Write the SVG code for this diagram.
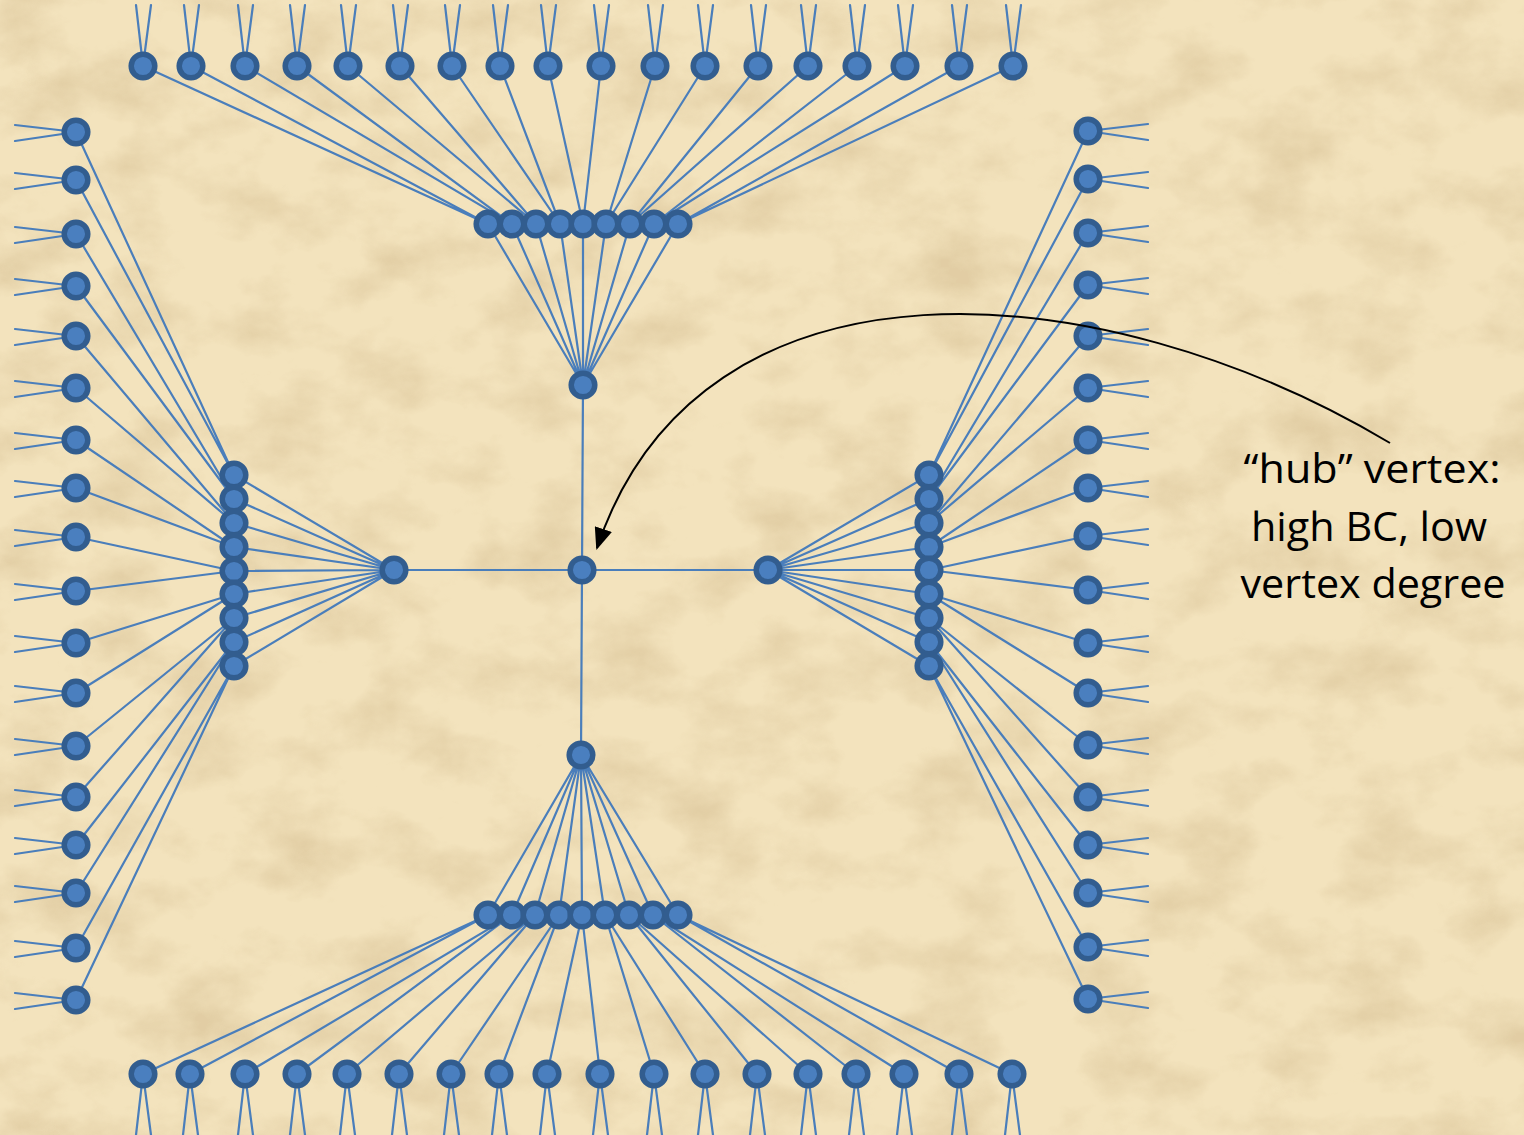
<svg xmlns="http://www.w3.org/2000/svg" width="1524" height="1135" viewBox="0 0 1524 1135">
  <defs>
    <style>
      .edge { fill: none; stroke: #4a7ebb; stroke-width: 2.2; stroke-linecap: round; }
      .v { fill: #4a7fbf; stroke: #325d8f; stroke-width: 5.5; }
      .callout { fill: none; stroke: #000; stroke-width: 2; }
      .label { font-family: "Open Sans", "Noto Sans", "Liberation Sans", sans-serif; font-size: 40px; fill: #000; }
    </style>
    <filter id="paper" x="0" y="0" width="100%" height="100%" filterUnits="userSpaceOnUse">
      <feTurbulence type="fractalNoise" baseFrequency="0.012 0.017" numOctaves="5" seed="11" result="noise"/>
      <feColorMatrix in="noise" type="matrix" values="0 0 0 0 0.68  0 0 0 0 0.53  0 0 0 0 0.30  2.2 0 0 0 -0.95"/>
    </filter>
    <marker id="arrowhead" markerWidth="11" markerHeight="9" refX="10" refY="4.5" orient="auto" markerUnits="strokeWidth">
      <path d="M0,0 L11,4.5 L0,9 Z" fill="#000"/>
    </marker>
  </defs>

  <!-- parchment background -->
  <rect width="1524" height="1135" fill="#f3e3bd"/>
  <rect width="1524" height="1135" filter="url(#paper)" opacity="0.6"/>

  <!-- connectors -->
  <g id="connectors">
    <!-- top: stubs leaving the outer row -->
    <path class="edge" d="M143,66L136,5M143,66L151,5M191,66L184,5M191,66L199,5M245,66L238,5M245,66L253,5M297,66L290,5M297,66L305,5M348,66L341,5M348,66L356,5M400,66L393,5M400,66L408,5M452,66L445,5M452,66L460,5M500,66L493,5M500,66L508,5M548,66L541,5M548,66L556,5M601,66L594,5M601,66L609,5M655,66L648,5M655,66L663,5M705,66L698,5M705,66L713,5M758,66L751,5M758,66L766,5M808,66L801,5M808,66L816,5M857,66L850,5M857,66L865,5M905,66L898,5M905,66L913,5M959,66L952,5M959,66L967,5M1013,66L1006,5M1013,66L1021,5"/>
    <!-- top: outer row to cluster -->
    <path class="edge" d="M143,66L488,224M191,66L488,224M245,66L512,224M297,66L512,224M348,66L536,224M400,66L536,224M452,66L560,224M500,66L560,224M548,66L583,224M601,66L583,224M655,66L606,224M705,66L606,224M758,66L630,224M808,66L630,224M857,66L654,224M905,66L654,224M959,66L678,224M1013,66L678,224"/>
    <!-- top: cluster to hub -->
    <path class="edge" d="M488,224L583,385M512,224L583,385M536,224L583,385M560,224L583,385M583,224L583,385M606,224L583,385M630,224L583,385M654,224L583,385M678,224L583,385"/>

    <!-- bottom: stubs -->
    <path class="edge" d="M143,1074L136,1135M143,1074L151,1135M190,1074L183,1135M190,1074L198,1135M245,1074L238,1135M245,1074L253,1135M297,1074L290,1135M297,1074L305,1135M347,1074L340,1135M347,1074L355,1135M399,1074L392,1135M399,1074L407,1135M451,1074L444,1135M451,1074L459,1135M499,1074L492,1135M499,1074L507,1135M547,1074L540,1135M547,1074L555,1135M600,1074L593,1135M600,1074L608,1135M654,1074L647,1135M654,1074L662,1135M705,1074L698,1135M705,1074L713,1135M757,1074L750,1135M757,1074L765,1135M808,1074L801,1135M808,1074L816,1135M856,1074L849,1135M856,1074L864,1135M904,1074L897,1135M904,1074L912,1135M959,1074L952,1135M959,1074L967,1135M1012,1074L1005,1135M1012,1074L1020,1135"/>
    <!-- bottom: outer row to cluster -->
    <path class="edge" d="M143,1074L488,915M190,1074L488,915M245,1074L512,915M297,1074L512,915M347,1074L535,915M399,1074L535,915M451,1074L559,915M499,1074L559,915M547,1074L582,915M600,1074L582,915M654,1074L605,915M705,1074L605,915M757,1074L629,915M808,1074L629,915M856,1074L653,915M904,1074L653,915M959,1074L678,915M1012,1074L678,915"/>
    <!-- bottom: cluster to hub -->
    <path class="edge" d="M488,915L581,755M512,915L581,755M535,915L581,755M559,915L581,755M582,915L581,755M605,915L581,755M629,915L581,755M653,915L581,755M678,915L581,755"/>

    <!-- left: stubs -->
    <path class="edge" d="M76,132L15,125M76,132L15,141M76,180L15,173M76,180L15,189M76,234L15,227M76,234L15,243M76,286L15,279M76,286L15,295M76,336L15,329M76,336L15,345M76,388L15,381M76,388L15,397M76,440L15,433M76,440L15,449M76,488L15,481M76,488L15,497M76,537L15,530M76,537L15,546M76,591L15,584M76,591L15,600M76,643L15,636M76,643L15,652M76,693L15,686M76,693L15,702M76,746L15,739M76,746L15,755M76,797L15,790M76,797L15,806M76,845L15,838M76,845L15,854M76,893L15,886M76,893L15,902M76,948L15,941M76,948L15,957M76,1000L15,993M76,1000L15,1009"/>
    <!-- left: outer column to cluster -->
    <path class="edge" d="M76,132L234,475M76,180L234,475M76,234L234,499M76,286L234,499M76,336L234,523M76,388L234,523M76,440L234,547M76,488L234,547M76,537L234,571M76,591L234,571M76,643L234,594M76,693L234,594M76,746L234,618M76,797L234,618M76,845L234,642M76,893L234,642M76,948L234,666M76,1000L234,666"/>
    <!-- left: cluster to hub -->
    <path class="edge" d="M234,475L394,570M234,499L394,570M234,523L394,570M234,547L394,570M234,571L394,570M234,594L394,570M234,618L394,570M234,642L394,570M234,666L394,570"/>

    <!-- right: stubs -->
    <path class="edge" d="M1088,131L1148,124M1088,131L1148,140M1088,179L1148,172M1088,179L1148,188M1088,233L1148,226M1088,233L1148,242M1088,285L1148,278M1088,285L1148,294M1088,336L1148,329M1088,336L1148,345M1088,388L1148,381M1088,388L1148,397M1088,440L1148,433M1088,440L1148,449M1088,488L1148,481M1088,488L1148,497M1088,536L1148,529M1088,536L1148,545M1088,590L1148,583M1088,590L1148,599M1088,643L1148,636M1088,643L1148,652M1088,693L1148,686M1088,693L1148,702M1088,745L1148,738M1088,745L1148,754M1088,797L1148,790M1088,797L1148,806M1088,845L1148,838M1088,845L1148,854M1088,893L1148,886M1088,893L1148,902M1088,947L1148,940M1088,947L1148,956M1088,999L1148,992M1088,999L1148,1008"/>
    <!-- right: outer column to cluster -->
    <path class="edge" d="M1088,131L929,475M1088,179L929,475M1088,233L929,499M1088,285L929,499M1088,336L929,523M1088,388L929,523M1088,440L929,547M1088,488L929,547M1088,536L929,570M1088,590L929,570M1088,643L929,594M1088,693L929,594M1088,745L929,618M1088,797L929,618M1088,845L929,642M1088,893L929,642M1088,947L929,666M1088,999L929,666"/>
    <!-- right: cluster to hub -->
    <path class="edge" d="M929,475L768,570M929,499L768,570M929,523L768,570M929,547L768,570M929,570L768,570M929,594L768,570M929,618L768,570M929,642L768,570M929,666L768,570"/>

    <!-- hubs to the central vertex -->
    <path class="edge" d="M394,570L582,570M768,570L582,570M583,385L582,570M581,755L582,570"/>
  </g>

  <!-- top outer row -->
  <g id="top-0"><circle class="v" cx="143" cy="66" r="11.8"/></g>
  <g id="top-1"><circle class="v" cx="191" cy="66" r="11.8"/></g>
  <g id="top-2"><circle class="v" cx="245" cy="66" r="11.8"/></g>
  <g id="top-3"><circle class="v" cx="297" cy="66" r="11.8"/></g>
  <g id="top-4"><circle class="v" cx="348" cy="66" r="11.8"/></g>
  <g id="top-5"><circle class="v" cx="400" cy="66" r="11.8"/></g>
  <g id="top-6"><circle class="v" cx="452" cy="66" r="11.8"/></g>
  <g id="top-7"><circle class="v" cx="500" cy="66" r="11.8"/></g>
  <g id="top-8"><circle class="v" cx="548" cy="66" r="11.8"/></g>
  <g id="top-9"><circle class="v" cx="601" cy="66" r="11.8"/></g>
  <g id="top-10"><circle class="v" cx="655" cy="66" r="11.8"/></g>
  <g id="top-11"><circle class="v" cx="705" cy="66" r="11.8"/></g>
  <g id="top-12"><circle class="v" cx="758" cy="66" r="11.8"/></g>
  <g id="top-13"><circle class="v" cx="808" cy="66" r="11.8"/></g>
  <g id="top-14"><circle class="v" cx="857" cy="66" r="11.8"/></g>
  <g id="top-15"><circle class="v" cx="905" cy="66" r="11.8"/></g>
  <g id="top-16"><circle class="v" cx="959" cy="66" r="11.8"/></g>
  <g id="top-17"><circle class="v" cx="1013" cy="66" r="11.8"/></g>

  <!-- top cluster -->
  <g id="top-cluster-0"><circle class="v" cx="488" cy="224" r="11.8"/></g>
  <g id="top-cluster-1"><circle class="v" cx="512" cy="224" r="11.8"/></g>
  <g id="top-cluster-2"><circle class="v" cx="536" cy="224" r="11.8"/></g>
  <g id="top-cluster-3"><circle class="v" cx="560" cy="224" r="11.8"/></g>
  <g id="top-cluster-4"><circle class="v" cx="583" cy="224" r="11.8"/></g>
  <g id="top-cluster-5"><circle class="v" cx="606" cy="224" r="11.8"/></g>
  <g id="top-cluster-6"><circle class="v" cx="630" cy="224" r="11.8"/></g>
  <g id="top-cluster-7"><circle class="v" cx="654" cy="224" r="11.8"/></g>
  <g id="top-cluster-8"><circle class="v" cx="678" cy="224" r="11.8"/></g>
  <g id="top-hub"><circle class="v" cx="583" cy="385" r="11.8"/></g>

  <!-- bottom outer row -->
  <g id="bottom-0"><circle class="v" cx="143" cy="1074" r="11.8"/></g>
  <g id="bottom-1"><circle class="v" cx="190" cy="1074" r="11.8"/></g>
  <g id="bottom-2"><circle class="v" cx="245" cy="1074" r="11.8"/></g>
  <g id="bottom-3"><circle class="v" cx="297" cy="1074" r="11.8"/></g>
  <g id="bottom-4"><circle class="v" cx="347" cy="1074" r="11.8"/></g>
  <g id="bottom-5"><circle class="v" cx="399" cy="1074" r="11.8"/></g>
  <g id="bottom-6"><circle class="v" cx="451" cy="1074" r="11.8"/></g>
  <g id="bottom-7"><circle class="v" cx="499" cy="1074" r="11.8"/></g>
  <g id="bottom-8"><circle class="v" cx="547" cy="1074" r="11.8"/></g>
  <g id="bottom-9"><circle class="v" cx="600" cy="1074" r="11.8"/></g>
  <g id="bottom-10"><circle class="v" cx="654" cy="1074" r="11.8"/></g>
  <g id="bottom-11"><circle class="v" cx="705" cy="1074" r="11.8"/></g>
  <g id="bottom-12"><circle class="v" cx="757" cy="1074" r="11.8"/></g>
  <g id="bottom-13"><circle class="v" cx="808" cy="1074" r="11.8"/></g>
  <g id="bottom-14"><circle class="v" cx="856" cy="1074" r="11.8"/></g>
  <g id="bottom-15"><circle class="v" cx="904" cy="1074" r="11.8"/></g>
  <g id="bottom-16"><circle class="v" cx="959" cy="1074" r="11.8"/></g>
  <g id="bottom-17"><circle class="v" cx="1012" cy="1074" r="11.8"/></g>

  <!-- bottom cluster -->
  <g id="bottom-cluster-0"><circle class="v" cx="488" cy="915" r="11.8"/></g>
  <g id="bottom-cluster-1"><circle class="v" cx="512" cy="915" r="11.8"/></g>
  <g id="bottom-cluster-2"><circle class="v" cx="535" cy="915" r="11.8"/></g>
  <g id="bottom-cluster-3"><circle class="v" cx="559" cy="915" r="11.8"/></g>
  <g id="bottom-cluster-4"><circle class="v" cx="582" cy="915" r="11.8"/></g>
  <g id="bottom-cluster-5"><circle class="v" cx="605" cy="915" r="11.8"/></g>
  <g id="bottom-cluster-6"><circle class="v" cx="629" cy="915" r="11.8"/></g>
  <g id="bottom-cluster-7"><circle class="v" cx="653" cy="915" r="11.8"/></g>
  <g id="bottom-cluster-8"><circle class="v" cx="678" cy="915" r="11.8"/></g>
  <g id="bottom-hub"><circle class="v" cx="581" cy="755" r="11.8"/></g>

  <!-- left outer column -->
  <g id="left-0"><circle class="v" cx="76" cy="132" r="11.8"/></g>
  <g id="left-1"><circle class="v" cx="76" cy="180" r="11.8"/></g>
  <g id="left-2"><circle class="v" cx="76" cy="234" r="11.8"/></g>
  <g id="left-3"><circle class="v" cx="76" cy="286" r="11.8"/></g>
  <g id="left-4"><circle class="v" cx="76" cy="336" r="11.8"/></g>
  <g id="left-5"><circle class="v" cx="76" cy="388" r="11.8"/></g>
  <g id="left-6"><circle class="v" cx="76" cy="440" r="11.8"/></g>
  <g id="left-7"><circle class="v" cx="76" cy="488" r="11.8"/></g>
  <g id="left-8"><circle class="v" cx="76" cy="537" r="11.8"/></g>
  <g id="left-9"><circle class="v" cx="76" cy="591" r="11.8"/></g>
  <g id="left-10"><circle class="v" cx="76" cy="643" r="11.8"/></g>
  <g id="left-11"><circle class="v" cx="76" cy="693" r="11.8"/></g>
  <g id="left-12"><circle class="v" cx="76" cy="746" r="11.8"/></g>
  <g id="left-13"><circle class="v" cx="76" cy="797" r="11.8"/></g>
  <g id="left-14"><circle class="v" cx="76" cy="845" r="11.8"/></g>
  <g id="left-15"><circle class="v" cx="76" cy="893" r="11.8"/></g>
  <g id="left-16"><circle class="v" cx="76" cy="948" r="11.8"/></g>
  <g id="left-17"><circle class="v" cx="76" cy="1000" r="11.8"/></g>

  <!-- left cluster -->
  <g id="left-cluster-0"><circle class="v" cx="234" cy="475" r="11.8"/></g>
  <g id="left-cluster-1"><circle class="v" cx="234" cy="499" r="11.8"/></g>
  <g id="left-cluster-2"><circle class="v" cx="234" cy="523" r="11.8"/></g>
  <g id="left-cluster-3"><circle class="v" cx="234" cy="547" r="11.8"/></g>
  <g id="left-cluster-4"><circle class="v" cx="234" cy="571" r="11.8"/></g>
  <g id="left-cluster-5"><circle class="v" cx="234" cy="594" r="11.8"/></g>
  <g id="left-cluster-6"><circle class="v" cx="234" cy="618" r="11.8"/></g>
  <g id="left-cluster-7"><circle class="v" cx="234" cy="642" r="11.8"/></g>
  <g id="left-cluster-8"><circle class="v" cx="234" cy="666" r="11.8"/></g>
  <g id="left-hub"><circle class="v" cx="394" cy="570" r="11.8"/></g>

  <!-- right outer column -->
  <g id="right-0"><circle class="v" cx="1088" cy="131" r="11.8"/></g>
  <g id="right-1"><circle class="v" cx="1088" cy="179" r="11.8"/></g>
  <g id="right-2"><circle class="v" cx="1088" cy="233" r="11.8"/></g>
  <g id="right-3"><circle class="v" cx="1088" cy="285" r="11.8"/></g>
  <g id="right-4"><circle class="v" cx="1088" cy="336" r="11.8"/></g>
  <g id="right-5"><circle class="v" cx="1088" cy="388" r="11.8"/></g>
  <g id="right-6"><circle class="v" cx="1088" cy="440" r="11.8"/></g>
  <g id="right-7"><circle class="v" cx="1088" cy="488" r="11.8"/></g>
  <g id="right-8"><circle class="v" cx="1088" cy="536" r="11.8"/></g>
  <g id="right-9"><circle class="v" cx="1088" cy="590" r="11.8"/></g>
  <g id="right-10"><circle class="v" cx="1088" cy="643" r="11.8"/></g>
  <g id="right-11"><circle class="v" cx="1088" cy="693" r="11.8"/></g>
  <g id="right-12"><circle class="v" cx="1088" cy="745" r="11.8"/></g>
  <g id="right-13"><circle class="v" cx="1088" cy="797" r="11.8"/></g>
  <g id="right-14"><circle class="v" cx="1088" cy="845" r="11.8"/></g>
  <g id="right-15"><circle class="v" cx="1088" cy="893" r="11.8"/></g>
  <g id="right-16"><circle class="v" cx="1088" cy="947" r="11.8"/></g>
  <g id="right-17"><circle class="v" cx="1088" cy="999" r="11.8"/></g>

  <!-- right cluster -->
  <g id="right-cluster-0"><circle class="v" cx="929" cy="475" r="11.8"/></g>
  <g id="right-cluster-1"><circle class="v" cx="929" cy="499" r="11.8"/></g>
  <g id="right-cluster-2"><circle class="v" cx="929" cy="523" r="11.8"/></g>
  <g id="right-cluster-3"><circle class="v" cx="929" cy="547" r="11.8"/></g>
  <g id="right-cluster-4"><circle class="v" cx="929" cy="570" r="11.8"/></g>
  <g id="right-cluster-5"><circle class="v" cx="929" cy="594" r="11.8"/></g>
  <g id="right-cluster-6"><circle class="v" cx="929" cy="618" r="11.8"/></g>
  <g id="right-cluster-7"><circle class="v" cx="929" cy="642" r="11.8"/></g>
  <g id="right-cluster-8"><circle class="v" cx="929" cy="666" r="11.8"/></g>
  <g id="right-hub"><circle class="v" cx="768" cy="570" r="11.8"/></g>

  <!-- central hub vertex -->
  <g id="center-hub"><circle class="v" cx="582" cy="570" r="11.8"/></g>

  <!-- callout -->
  <g id="callout">
    <path class="callout" d="M1390,443 C1100,270 700,240 597,548" marker-end="url(#arrowhead)"/>
    <text class="label" x="1372" y="483" text-anchor="middle" textLength="257" lengthAdjust="spacingAndGlyphs">“hub” vertex:</text>
    <text class="label" x="1369" y="541" text-anchor="middle" textLength="236" lengthAdjust="spacingAndGlyphs">high BC, low</text>
    <text class="label" x="1373" y="598" text-anchor="middle" textLength="265" lengthAdjust="spacingAndGlyphs">vertex degree</text>
  </g>
</svg>
